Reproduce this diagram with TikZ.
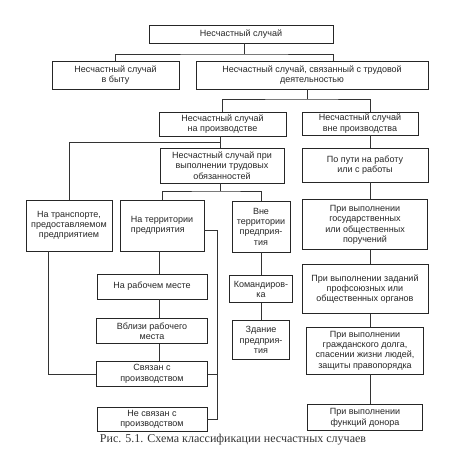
\documentclass[tikz,border=0pt]{standalone}
\usepackage{fontspec}
\setmainfont{Liberation Sans}
\newfontfamily\capfont{Liberation Serif}
\usepackage{tikz}
\usetikzlibrary{positioning,calc}

\begin{document}
\begin{tikzpicture}[
    x=1pt, y=-1pt,
    node distance=17pt and 12pt,
    box/.style={rectangle, draw=black!85, line width=0.7pt, align=center, inner sep=2pt, text=black!85, font=\fontsize{9}{10.3}\selectfont},
    link/.style={draw=black!80, line width=0.6pt}
]
    \useasboundingbox (0,0) rectangle (460,468);

    % upper levels
    \node [box, minimum width=184pt, minimum height=18pt] (top) at (241,34) {Несчастный случай};
    \node [box, minimum width=127pt, minimum height=28pt] (byt) at (115.5,75) {Несчастный случай\\в быту};
    \node [box, minimum width=232pt, minimum height=28pt] (trud) at (312,75) {Несчастный случай, связанный с трудовой\\деятельностью};
    \node [box, minimum width=127pt, minimum height=24pt] (proizv) at (222.5,124) {Несчастный случай\\на производстве};
    \node [box, minimum width=116pt, minimum height=23pt] (vne) at (360,123.5) {Несчастный случай\\вне производства};
    \node [box, minimum width=124pt, minimum height=35pt] (obyaz) at (222,165.5) {Несчастный случай при\\выполнении трудовых\\обязанностей};

    % left part
    \node [box, minimum width=86pt, minimum height=51pt] (transp) at (69,225.5) {На транспорте,\\предоставляемом\\предприятием};
    \node [box, minimum width=84pt, minimum height=51pt, align=left] (terr) at (162,225.5) {На территории\\предприятия};
    \node [box, minimum width=58pt, minimum height=51pt] (vneterr) at (261,226.5) {Вне\\территории\\предприя-\\тия};
    \node [box, minimum width=110pt, minimum height=25pt] (rab) at (152,286.5) {На рабочем месте};
    \node [box, minimum width=111pt, minimum height=25pt, below=19pt of rab] (vbl) {Вблизи рабочего\\места};
    \node [box, minimum width=111pt, minimum height=25pt, below=17pt of vbl] (svyaz) {Связан с\\производством};
    \node [box, minimum width=110pt, minimum height=24pt, below=20pt of svyaz] (nesv) {Не связан с\\производством};
    \node [box, minimum width=63pt, minimum height=27pt, below=23pt of vneterr] (kom) {Командиров-\\ка};
    \node [box, minimum width=57pt, minimum height=39pt, below=17pt of kom] (zdan) {Здание\\предприя-\\тия};

    % right part
    \node [box, minimum width=126pt, minimum height=34pt] (put) at (365,165) {По пути на работу\\или с работы};
    \node [box, minimum width=125pt, minimum height=50pt, below=17pt of put] (gos) {При выполнении\\государственных\\или общественных\\поручений};
    \node [box, minimum width=126pt, minimum height=49pt, below=14pt of gos] (prof) {При выполнении заданий\\профсоюзных или\\общественных органов};
    \node [box, minimum width=117pt, minimum height=47pt, below=13pt of prof] (grazh) {При выполнении\\гражданского долга,\\спасении жизни людей,\\защиты правопорядка};
    \node [box, minimum width=115pt, minimum height=26pt, below=30pt of grazh] (donor) {При выполнении\\функций донора};

    \node [font=\capfont\fontsize{12}{14}\selectfont, text=black!80] (cap) at (233,440) {Рис. 5.1. Схема классификации несчастных случаев};

    % connectors
    \coordinate (b1) at (244,54);
    \draw [link] (top.south -| b1) -- (b1);
    \draw [link] (byt.north) |- (b1) -| ($(trud.north)+(21,0)$);

    \coordinate (b2) at (307,99);
    \draw [link] (trud.south -| b2) -- (b2);
    \draw [link] (proizv.north) |- (b2) -| ($(vne.north)+(10,0)$);

    \coordinate (b3) at (220,142);
    \draw [link] (proizv.south -| b3) -- (obyaz.north -| b3);
    \draw [link] (b3) -| (transp.north);

    \coordinate (b4) at (220,191);
    \draw [link] (obyaz.south -| b4) -- (b4);
    \draw [link] (terr.north) |- (b4) -| (vneterr.north);

    \coordinate (rs) at (370,0);
    \draw [link] (vne.south -| rs) -- (put.north -| rs);
    \draw [link] (put.south -| rs) -- (gos.north -| rs);
    \draw [link] (gos.south -| rs) -- (prof.north -| rs);
    \draw [link] (prof.south -| rs) -- (grazh.north -| rs);
    \draw [link] (grazh.south -| rs) -- (donor.north -| rs);

    \draw [link] (vneterr) -- (kom);
    \draw [link] (kom) -- (zdan);

    \coordinate (ls) at (159,0);
    \draw [link] (terr.south -| ls) -- (rab.north -| ls);
    \draw [link] (rab.south -| ls) -- (vbl.north -| ls);
    \draw [link] (vbl.south -| ls) -- (svyaz.north -| ls);

    \coordinate (rb) at (217,230);
    \draw [link] (terr.east |- rb) -- (rb) |- (nesv.east);
    \draw [link] (svyaz.east) -- (svyaz.east -| rb);

    \coordinate (tb) at (48,0);
    \draw [link] (transp.south -| tb) |- (svyaz.west);
\end{tikzpicture}
\end{document}
